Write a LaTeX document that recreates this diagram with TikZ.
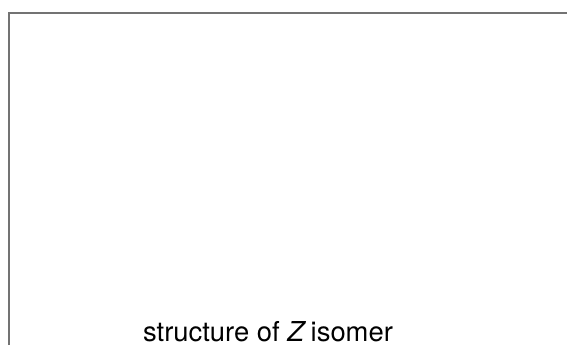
\documentclass[tikz,border=0pt]{standalone}
\usepackage{fontspec}
\setmainfont{TeX Gyre Heros}
\usetikzlibrary{positioning}

\begin{document}
\begin{tikzpicture}[x=0.5pt,y=-0.5pt]
            \useasboundingbox (0,0) rectangle (567,345);
            \coordinate (A) at (8.5,345);
            \coordinate (B) at (8.5,12.5);
            \coordinate (C) at (567,12.5);
            \draw[line width=1pt,black!55] (A)--(B)--(C);
            \node[font=\fontsize{13.7}{15}\selectfont,anchor=base,inner sep=0pt] (caption) at (268,341.5) {structure of \textit{Z}\,isomer};
        \end{tikzpicture}
\end{document}
